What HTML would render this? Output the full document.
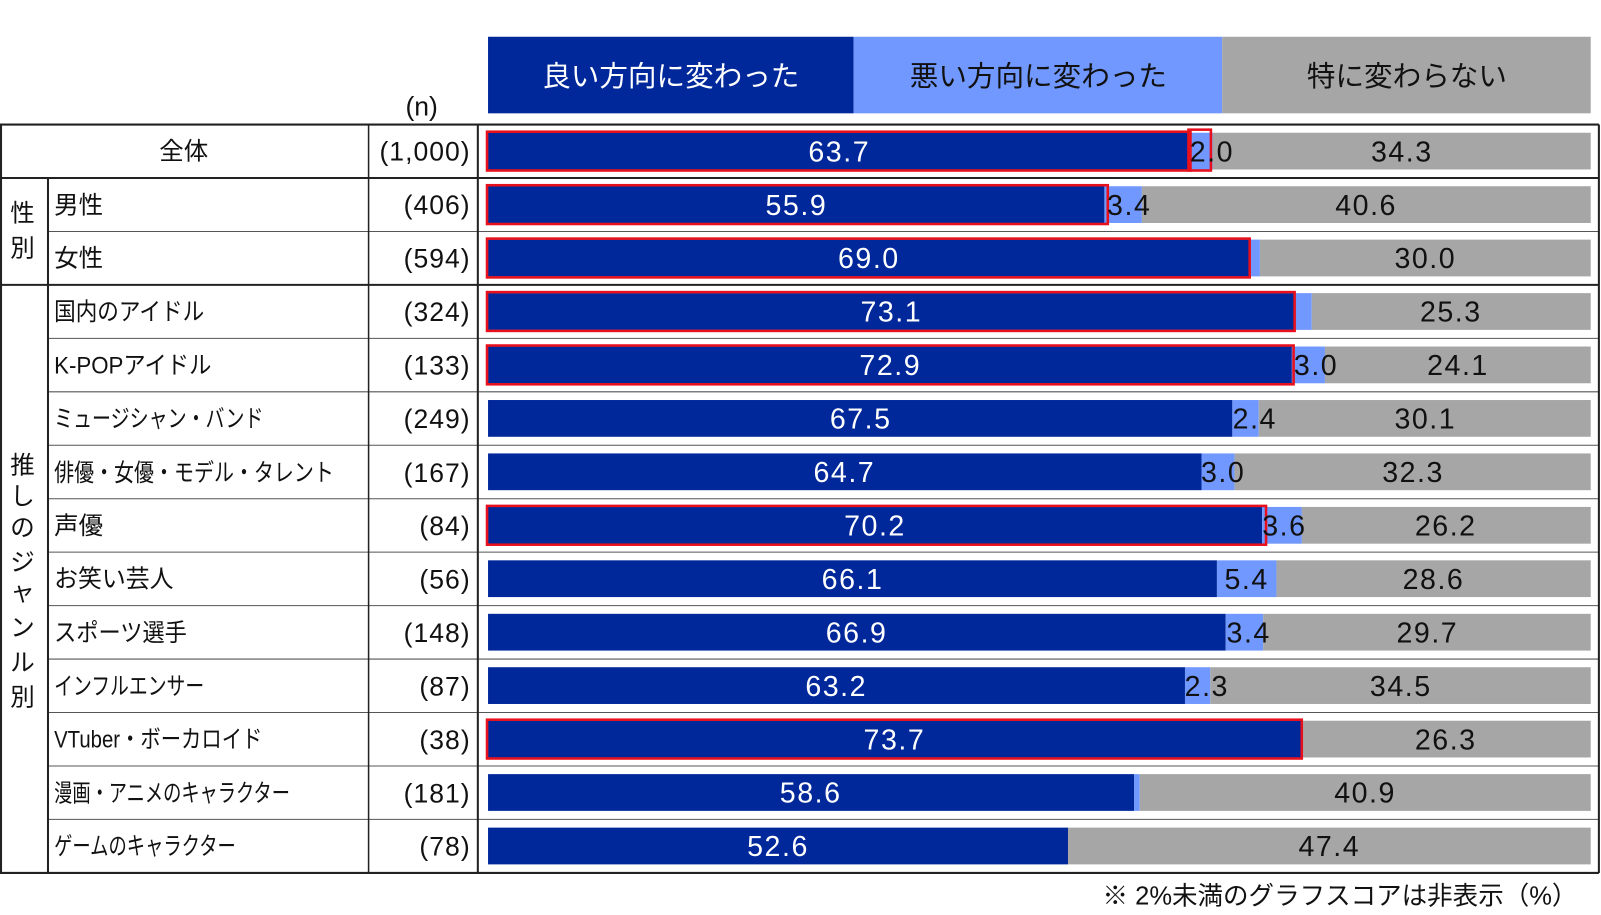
<!DOCTYPE html>
<html><head><meta charset="utf-8"><style>
html,body{margin:0;padding:0;background:#fff;width:1601px;height:915px;overflow:hidden;}
svg{display:block;font-family:"Liberation Sans","Noto Sans CJK JP",sans-serif;}
.w{fill:#fff;font-size:28px;text-anchor:middle;letter-spacing:1.5px;}
.b{fill:#111;font-size:28px;text-anchor:middle;letter-spacing:1.5px;}
.lab{fill:#111;font-size:24px;}
.n{fill:#111;font-size:26px;text-anchor:end;letter-spacing:1px;}
.v{fill:#111;font-size:24px;text-anchor:middle;}
.r{fill:none;stroke:#e8101c;stroke-width:2.5;}
</style></head><body>
<svg width="1601" height="915" viewBox="0 0 1601 915">
<g transform="scale(1.021)">
<rect x="478" y="36" width="358" height="75" fill="#00289A"/>
<rect x="836" y="36" width="361" height="75" fill="#7198FF"/>
<rect x="1197" y="36" width="361" height="75" fill="#A6A6A6"/>
<text x="657" y="84" class="w" style="font-size:28px;letter-spacing:0">良い方向に変わった</text>
<text x="1017" y="84" class="b" style="font-size:28px;letter-spacing:0">悪い方向に変わった</text>
<text x="1378" y="84" class="b" style="font-size:28px;letter-spacing:0">特に変わらない</text>
<text x="413" y="113" class="v" style="font-size:26px">(n)</text>

<g>
<rect x="478" y="130" width="688" height="36" fill="#00289A"/><rect x="1166" y="130" width="21.6" height="36" fill="#7198FF"/><rect x="1187.6" y="130" width="370.4" height="36" fill="#A6A6A6"/>
<rect x="478" y="182.4" width="603.7" height="36" fill="#00289A"/><rect x="1081.7" y="182.4" width="36.7" height="36" fill="#7198FF"/><rect x="1118.4" y="182.4" width="439.6" height="36" fill="#A6A6A6"/>
<rect x="478" y="234.7" width="745.2" height="36" fill="#00289A"/><rect x="1223.2" y="234.7" width="10.8" height="36" fill="#7198FF"/><rect x="1234" y="234.7" width="324" height="36" fill="#A6A6A6"/>
<rect x="478" y="287.1" width="789.5" height="36" fill="#00289A"/><rect x="1267.5" y="287.1" width="17.3" height="36" fill="#7198FF"/><rect x="1284.8" y="287.1" width="273.2" height="36" fill="#A6A6A6"/>
<rect x="478" y="339.4" width="787.3" height="36" fill="#00289A"/><rect x="1265.3" y="339.4" width="32.4" height="36" fill="#7198FF"/><rect x="1297.7" y="339.4" width="260.3" height="36" fill="#A6A6A6"/>
<rect x="478" y="391.8" width="729" height="36" fill="#00289A"/><rect x="1207" y="391.8" width="25.9" height="36" fill="#7198FF"/><rect x="1232.9" y="391.8" width="325.1" height="36" fill="#A6A6A6"/>
<rect x="478" y="444.1" width="698.8" height="36" fill="#00289A"/><rect x="1176.8" y="444.1" width="32.4" height="36" fill="#7198FF"/><rect x="1209.2" y="444.1" width="348.8" height="36" fill="#A6A6A6"/>
<rect x="478" y="496.5" width="758.2" height="36" fill="#00289A"/><rect x="1236.2" y="496.5" width="38.9" height="36" fill="#7198FF"/><rect x="1275" y="496.5" width="283" height="36" fill="#A6A6A6"/>
<rect x="478" y="548.8" width="713.9" height="36" fill="#00289A"/><rect x="1191.9" y="548.8" width="58.3" height="36" fill="#7198FF"/><rect x="1250.2" y="548.8" width="307.8" height="36" fill="#A6A6A6"/>
<rect x="478" y="601.2" width="722.5" height="36" fill="#00289A"/><rect x="1200.5" y="601.2" width="36.7" height="36" fill="#7198FF"/><rect x="1237.2" y="601.2" width="320.8" height="36" fill="#A6A6A6"/>
<rect x="478" y="653.5" width="682.6" height="36" fill="#00289A"/><rect x="1160.6" y="653.5" width="24.8" height="36" fill="#7198FF"/><rect x="1185.4" y="653.5" width="372.6" height="36" fill="#A6A6A6"/>
<rect x="478" y="705.9" width="796" height="36" fill="#00289A"/><rect x="1274" y="705.9" width="284" height="36" fill="#A6A6A6"/>
<rect x="478" y="758.2" width="632.9" height="36" fill="#00289A"/><rect x="1110.9" y="758.2" width="5.4" height="36" fill="#7198FF"/><rect x="1116.3" y="758.2" width="441.7" height="36" fill="#A6A6A6"/>
<rect x="478" y="810.6" width="568.1" height="36" fill="#00289A"/><rect x="1046.1" y="810.6" width="511.9" height="36" fill="#A6A6A6"/>
</g>
<rect class="r" x="477" y="129" width="689" height="38"/>
<rect class="r" x="1164" y="127" width="22" height="40"/>
<rect class="r" x="477" y="181.4" width="608" height="38"/>
<rect class="r" x="477" y="233.7" width="747" height="38"/>
<rect class="r" x="477" y="286.1" width="791" height="38"/>
<rect class="r" x="477" y="338.4" width="790" height="38"/>
<rect class="r" x="477" y="495.5" width="763" height="38"/>
<rect class="r" x="477" y="704.9" width="798" height="38"/>

<g>
<text x="822" y="158" class="w">63.7</text><text x="1187" y="158" class="b">2.0</text><text x="1373" y="158" class="b">34.3</text>
<text x="780" y="210.4" class="w">55.9</text><text x="1106" y="210.4" class="b">3.4</text><text x="1338" y="210.4" class="b">40.6</text>
<text x="851" y="262.7" class="w">69.0</text><text x="1396" y="262.7" class="b">30.0</text>
<text x="873" y="315.1" class="w">73.1</text><text x="1421" y="315.1" class="b">25.3</text>
<text x="872" y="367.4" class="w">72.9</text><text x="1289" y="367.4" class="b">3.0</text><text x="1428" y="367.4" class="b">24.1</text>
<text x="843" y="419.8" class="w">67.5</text><text x="1229" y="419.8" class="b">2.4</text><text x="1396" y="419.8" class="b">30.1</text>
<text x="827" y="472.1" class="w">64.7</text><text x="1198" y="472.1" class="b">3.0</text><text x="1384" y="472.1" class="b">32.3</text>
<text x="857" y="524.5" class="w">70.2</text><text x="1258" y="524.5" class="b">3.6</text><text x="1416" y="524.5" class="b">26.2</text>
<text x="835" y="576.8" class="w">66.1</text><text x="1221" y="576.8" class="b">5.4</text><text x="1404" y="576.8" class="b">28.6</text>
<text x="839" y="629.2" class="w">66.9</text><text x="1223" y="629.2" class="b">3.4</text><text x="1398" y="629.2" class="b">29.7</text>
<text x="819" y="681.5" class="w">63.2</text><text x="1182" y="681.5" class="b">2.3</text><text x="1372" y="681.5" class="b">34.5</text>
<text x="876" y="733.9" class="w">73.7</text><text x="1416" y="733.9" class="b">26.3</text>
<text x="794" y="786.2" class="w">58.6</text><text x="1337" y="786.2" class="b">40.9</text>
<text x="762" y="838.6" class="w">52.6</text><text x="1302" y="838.6" class="b">47.4</text>
</g>

<g stroke="#222" fill="none">
<line x1="47" y1="226.7" x2="1566" y2="226.7" stroke-width="1" stroke="#555"/>
<line x1="47" y1="331.4" x2="1566" y2="331.4" stroke-width="1" stroke="#555"/>
<line x1="47" y1="383.75" x2="1566" y2="383.75" stroke-width="1" stroke="#555"/>
<line x1="47" y1="436.1" x2="1566" y2="436.1" stroke-width="1" stroke="#555"/>
<line x1="47" y1="488.45" x2="1566" y2="488.45" stroke-width="1" stroke="#555"/>
<line x1="47" y1="540.8" x2="1566" y2="540.8" stroke-width="1" stroke="#555"/>
<line x1="47" y1="593.15" x2="1566" y2="593.15" stroke-width="1" stroke="#555"/>
<line x1="47" y1="645.5" x2="1566" y2="645.5" stroke-width="1" stroke="#555"/>
<line x1="47" y1="697.85" x2="1566" y2="697.85" stroke-width="1" stroke="#555"/>
<line x1="47" y1="750.2" x2="1566" y2="750.2" stroke-width="1" stroke="#555"/>
<line x1="47" y1="802.55" x2="1566" y2="802.55" stroke-width="1" stroke="#555"/>
<line x1="0" y1="122" x2="1566" y2="122" stroke-width="2"/>
<line x1="0" y1="174.35" x2="1566" y2="174.35" stroke-width="2"/>
<line x1="0" y1="279.05" x2="1566" y2="279.05" stroke-width="2"/>
<line x1="0" y1="855" x2="1566" y2="855" stroke-width="2"/>
<line x1="1" y1="122" x2="1" y2="855" stroke-width="2"/>
<line x1="1566" y1="122" x2="1566" y2="855" stroke-width="2"/>
<line x1="47" y1="174.35" x2="47" y2="855" stroke-width="2"/>
<line x1="361" y1="122" x2="361" y2="855" stroke-width="1.5"/>
<line x1="468" y1="122" x2="468" y2="855" stroke-width="2"/>
</g>

<text x="180" y="156" class="lab" style="text-anchor:middle">全体</text>
<text x="22" y="217" class="lab" style="text-anchor:middle">性</text>
<text x="22" y="251" class="lab" style="text-anchor:middle">別</text>
<text x="22" y="464" class="lab" style="text-anchor:middle">推</text>
<text x="22" y="494" class="lab" style="text-anchor:middle">し</text>
<text x="22" y="525" class="lab" style="text-anchor:middle">の</text>
<text x="22" y="559" class="lab" style="text-anchor:middle">ジ</text>
<text x="22" y="588" class="lab" style="text-anchor:middle">ャ</text>
<text x="22" y="623" class="lab" style="text-anchor:middle">ン</text>
<text x="22" y="657" class="lab" style="text-anchor:middle">ル</text>
<text x="22" y="691" class="lab" style="text-anchor:middle">別</text>
<text x="53" y="209" class="lab">男性</text>
<text x="53" y="261" class="lab">女性</text>
<text x="53" y="313.5" class="lab" textLength="147" lengthAdjust="spacingAndGlyphs">国内のアイドル</text>
<text x="53" y="366" class="lab" textLength="154" lengthAdjust="spacingAndGlyphs">K-POPアイドル</text>
<text x="53" y="418" class="lab" textLength="205" lengthAdjust="spacingAndGlyphs">ミュージシャン・バンド</text>
<text x="53" y="471" class="lab" textLength="274" lengthAdjust="spacingAndGlyphs">俳優・女優・モデル・タレント</text>
<text x="53" y="523" class="lab">声優</text>
<text x="53" y="575" class="lab" textLength="117" lengthAdjust="spacingAndGlyphs">お笑い芸人</text>
<text x="53" y="628" class="lab" textLength="130" lengthAdjust="spacingAndGlyphs">スポーツ選手</text>
<text x="53" y="680" class="lab" textLength="147" lengthAdjust="spacingAndGlyphs">インフルエンサー</text>
<text x="53" y="732" class="lab" textLength="204" lengthAdjust="spacingAndGlyphs">VTuber・ボーカロイド</text>
<text x="53" y="785" class="lab" textLength="231" lengthAdjust="spacingAndGlyphs">漫画・アニメのキャラクター</text>
<text x="53" y="837" class="lab" textLength="178" lengthAdjust="spacingAndGlyphs">ゲームのキャラクター</text>

<text x="461" y="157" class="n">(1,000)</text>
<text x="461" y="209.5" class="n">(406)</text>
<text x="461" y="262" class="n">(594)</text>
<text x="461" y="314.5" class="n">(324)</text>
<text x="461" y="367" class="n">(133)</text>
<text x="461" y="419" class="n">(249)</text>
<text x="461" y="472" class="n">(167)</text>
<text x="461" y="524" class="n">(84)</text>
<text x="461" y="576.5" class="n">(56)</text>
<text x="461" y="629" class="n">(148)</text>
<text x="461" y="681" class="n">(87)</text>
<text x="461" y="733.5" class="n">(38)</text>
<text x="461" y="786" class="n">(181)</text>
<text x="461" y="838" class="n">(78)</text>

<text x="1545" y="886" style="font-size:25px;text-anchor:end;fill:#111">※ 2%未満のグラフスコアは非表示（%）</text>
</g>
</svg>
</body></html>
